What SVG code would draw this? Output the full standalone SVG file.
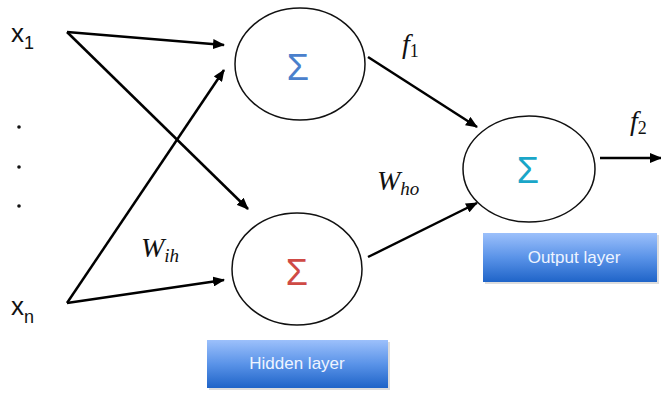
<svg xmlns="http://www.w3.org/2000/svg" width="661" height="393" viewBox="0 0 661 393">
<defs>
<style>
.node{fill:#fff;stroke:#111;stroke-width:1.5}
.sig{font-family:"Liberation Sans",Arial,sans-serif;font-size:36px;text-anchor:middle}
.edge{stroke:#000;stroke-width:2.5;fill:none;marker-end:url(#ah)}
.lbl{font-family:"Liberation Sans",Arial,sans-serif;fill:#111}
.math{font-family:"Liberation Serif","Times New Roman",serif;font-style:italic;fill:#111}
.up{font-style:normal}
.btxt{font-family:"Liberation Sans",Arial,sans-serif;font-size:17px;fill:#eef4ff;text-anchor:middle}
</style>
<marker id="ah" markerWidth="12" markerHeight="10" refX="11" refY="5" orient="auto" markerUnits="userSpaceOnUse">
<path d="M0,0 L12,5 L0,10 Z" fill="#000"/>
</marker>
<linearGradient id="bg" x1="0" y1="0" x2="0" y2="1">
<stop offset="0" stop-color="#9cc0fb"/>
<stop offset="0.5" stop-color="#5a93e8"/>
<stop offset="1" stop-color="#1f64c8"/>
</linearGradient>
</defs>
<rect width="661" height="393" fill="#fff"/>
<g id="connectors">
<line class="edge" x1="67" y1="32" x2="224" y2="45"/>
<line class="edge" x1="67" y1="32" x2="248" y2="209"/>
<line class="edge" x1="67" y1="303" x2="224" y2="70"/>
<line class="edge" x1="67" y1="303" x2="224" y2="280"/>
<line class="edge" x1="368" y1="57" x2="477" y2="127"/>
<line class="edge" x1="368" y1="257" x2="477" y2="203"/>
<line class="edge" x1="600" y1="158" x2="661" y2="158"/>
</g>
<g id="x1">
<text class="lbl" x="11" y="42" font-size="26">x<tspan font-size="18" dy="7">1</tspan></text>
</g>
<g id="dots" fill="#111">
<circle cx="19" cy="127" r="1.8"/>
<circle cx="19" cy="167" r="1.8"/>
<circle cx="19" cy="206" r="1.8"/>
</g>
<g id="xn">
<text class="lbl" x="11" y="315" font-size="26">x<tspan font-size="18" dy="8">n</tspan></text>
</g>
<g id="hidden1">
<ellipse class="node" cx="300" cy="64" rx="65" ry="56"/>
<text class="sig" x="298" y="80" fill="#4a80cc">Σ</text>
</g>
<g id="hidden2">
<ellipse class="node" cx="297" cy="269" rx="65" ry="56"/>
<text class="sig" x="297" y="285" fill="#cf4a45">Σ</text>
</g>
<g id="output">
<ellipse class="node" cx="529" cy="169" rx="66" ry="53"/>
<text class="sig" x="528" y="183" fill="#1aa6c8">Σ</text>
</g>
<g id="labels">
<text class="math" x="402" y="53" font-size="28">f<tspan class="up" font-size="18" dy="4">1</tspan></text>
<text class="math" x="630" y="130" font-size="28">f<tspan class="up" font-size="18" dy="4">2</tspan></text>
<text class="math" x="377" y="190" font-size="28">W<tspan font-size="19" dy="5">ho</tspan></text>
<text class="math" x="141" y="257" font-size="28">W<tspan font-size="19" dy="5">ih</tspan></text>
</g>
<g id="hidden-layer">
<rect x="209" y="342" width="181" height="48" fill="#bbb" opacity="0.5"/>
<rect x="207" y="340" width="181" height="48" fill="url(#bg)"/>
<text class="btxt" x="297" y="369">Hidden layer</text>
</g>
<g id="output-layer">
<rect x="485" y="235" width="174" height="49" fill="#bbb" opacity="0.5"/>
<rect x="483" y="233" width="174" height="49" fill="url(#bg)"/>
<text class="btxt" x="574" y="263">Output layer</text>
</g>
</svg>
